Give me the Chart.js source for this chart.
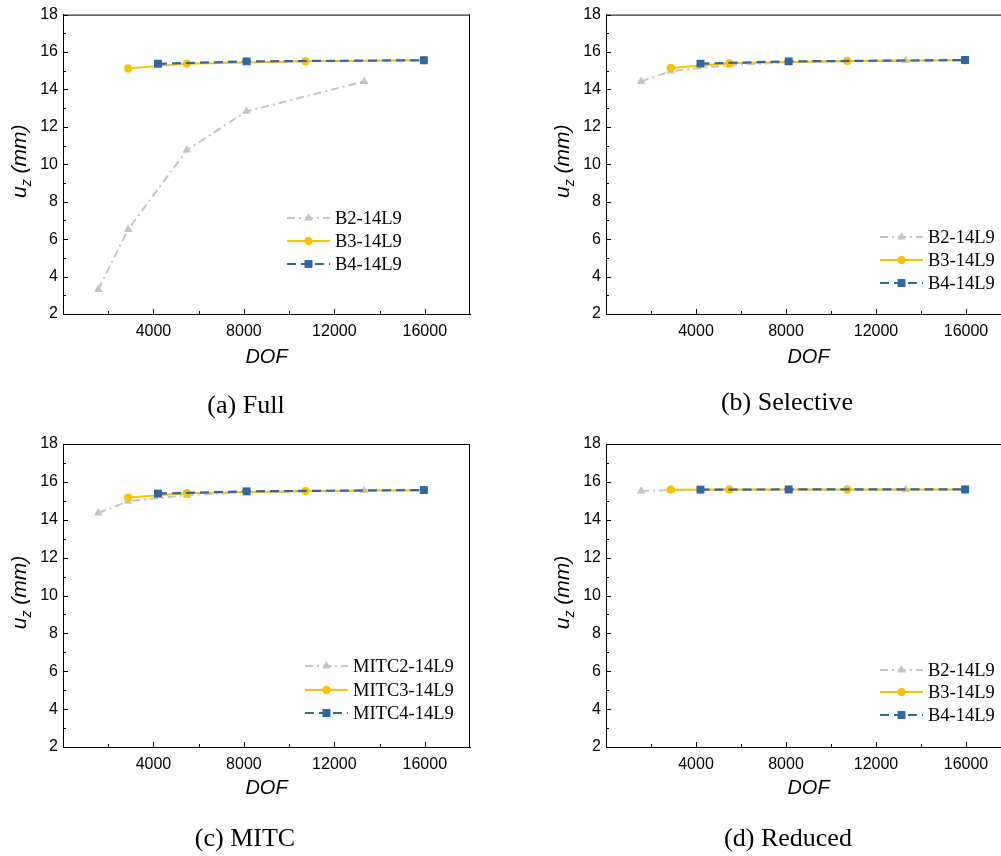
<!DOCTYPE html>
<html>
<head>
<meta charset="utf-8">
<script src="https://cdn.jsdelivr.net/npm/chart.js"></script>
<style>
  html, body { margin: 0; padding: 0; background: #fff; overflow: hidden; }
  #fig { position: relative; width: 1001px; height: 856px; overflow: hidden; background: #fff; }
  canvas { position: absolute; }
  .caption {
    position: absolute; width: 400px; text-align: center;
    font-family: 'Liberation Serif', 'Times New Roman', serif;
    font-size: 26px; line-height: 30px; color: #000;
  }
</style>
</head>
<body>
<div id="fig">
  <canvas id="chartA" width="500" height="425" style="left:0;top:0"></canvas>
  <canvas id="chartB" width="500" height="425" style="left:540px;top:0"></canvas>
  <canvas id="chartC" width="500" height="431" style="left:0;top:425px"></canvas>
  <canvas id="chartD" width="500" height="431" style="left:540px;top:425px"></canvas>
  <div class="caption" style="left:46px;top:390px">(a) Full</div>
  <div class="caption" style="left:587px;top:387px">(b) Selective</div>
  <div class="caption" style="left:45px;top:823px">(c) MITC</div>
  <div class="caption" style="left:588px;top:823px">(d) Reduced</div>
</div>
<script>
// DOF de cada malha (eixo x)
const dofB2 = [1560, 2880, 5480, 8120, 13320];
const dofB3 = [2880, 5480, 10720, 15960];
const dofB4 = [4200, 8120, 15960];

// u_z (mm) - integração completa
const fullB2 = [3.31, 6.52, 10.76, 12.83, 14.43];
const fullB3 = [15.12, 15.38, 15.51, 15.56];
const fullB4 = [15.37, 15.5, 15.56];

// seletiva
const selB2 = [14.42, 14.98, 15.3, 15.45, 15.55];
const selB3 = [15.15, 15.4, 15.52, 15.56];
const selB4 = [15.38, 15.5, 15.57];

// MITC
const mitcB2 = [14.36, 14.98, 15.3, 15.45, 15.55];
const mitcB3 = [15.17, 15.4, 15.52, 15.56];
const mitcB4 = [15.38, 15.5, 15.57];

// reduzida
const redB2 = [15.52, 15.57, 15.58, 15.58, 15.59];
const redB3 = [15.59, 15.6, 15.6, 15.6];
const redB4 = [15.59, 15.6, 15.6];

const namesB = ['B2-14L9', 'B3-14L9', 'B4-14L9'];
const namesMITC = ['MITC2-14L9', 'MITC3-14L9', 'MITC4-14L9'];

const xTickValues = [4000, 8000, 12000, 16000];
const xMinorValues = [2000, 6000, 10000, 14000];
const yTickValues = [2, 4, 6, 8, 10, 12, 14, 16, 18];
const yMinorValues = [3, 5, 7, 9, 11, 13, 15, 17];

const SANS = "'Liberation Sans', Arial, sans-serif";
const SERIF = "'Liberation Serif', 'Times New Roman', serif";

Chart.defaults.font.family = SANS;
Chart.defaults.color = '#000';

const seriesStyle = [
  { color: '#c4c4c4', dash: [8, 4, 2, 4], point: 'triangle', radius: 5, width: 2 },
  { color: '#ffc000', dash: [], point: 'circle', radius: 4.2, width: 2 },
  { color: '#2e67a2', dash: [9, 5], point: 'rect', radius: 5.6, width: 2.2 }
];

function toPoints(xs, ys) {
  return xs.map((x, i) => ({ x: x, y: ys[i] }));
}

function drawMarker(ctx, style, x, y, r) {
  ctx.beginPath();
  if (style === 'circle') {
    ctx.arc(x, y, r, 0, Math.PI * 2);
  } else if (style === 'rect') {
    const s = r * Math.SQRT1_2;
    ctx.rect(x - s, y - s, 2 * s, 2 * s);
  } else {
    let rad = 0;
    ctx.moveTo(x + Math.sin(rad) * r, y - Math.cos(rad) * r);
    rad += Math.PI * 2 / 3;
    ctx.lineTo(x + Math.sin(rad) * r, y - Math.cos(rad) * r);
    rad += Math.PI * 2 / 3;
    ctx.lineTo(x + Math.sin(rad) * r, y - Math.cos(rad) * r);
  }
  ctx.closePath();
  ctx.fill();
}

// moldura, ticks para dentro, titulo do eixo y e legenda
const decorPlugin = {
  id: 'decor',
  afterDraw(chart, args, opts) {
    const ctx = chart.ctx;
    const a = chart.chartArea;
    const xs = chart.scales.x, ys = chart.scales.y;
    ctx.save();
    ctx.strokeStyle = '#000';
    ctx.lineWidth = 1;
    ctx.beginPath();
    ctx.moveTo(a.left, a.top + 0.5);
    ctx.lineTo(a.right, a.top + 0.5);
    if (opts.frameRight) {
      ctx.moveTo(a.right - 0.5, a.top);
      ctx.lineTo(a.right - 0.5, a.bottom);
    }
    xTickValues.forEach(v => {
      const px = Math.round(xs.getPixelForValue(v)) + 0.5;
      ctx.moveTo(px, a.bottom); ctx.lineTo(px, a.bottom - 5);
    });
    xMinorValues.forEach(v => {
      const px = Math.round(xs.getPixelForValue(v)) + 0.5;
      ctx.moveTo(px, a.bottom); ctx.lineTo(px, a.bottom - 3);
    });
    yTickValues.forEach(v => {
      const py = Math.round(ys.getPixelForValue(v)) + 0.5;
      ctx.moveTo(a.left, py); ctx.lineTo(a.left + 5, py);
    });
    yMinorValues.forEach(v => {
      const py = Math.round(ys.getPixelForValue(v)) + 0.5;
      ctx.moveTo(a.left, py); ctx.lineTo(a.left + 3, py);
    });
    ctx.stroke();

    // titulo do eixo y: u_z (mm)
    ctx.translate(a.left - 37, (a.top + a.bottom) / 2 - 3);
    ctx.rotate(-Math.PI / 2);
    const big = 'italic 21px ' + SANS;
    const small = 'italic 14px ' + SANS;
    ctx.font = big; const wu = ctx.measureText('u').width;
    ctx.font = small; const wz = ctx.measureText('z').width;
    ctx.font = big; const wr = ctx.measureText(' (mm)').width;
    let tx = -(wu + wz + wr) / 2;
    ctx.fillStyle = '#000';
    ctx.textAlign = 'left';
    ctx.textBaseline = 'alphabetic';
    ctx.font = big; ctx.fillText('u', tx, 0); tx += wu;
    ctx.font = small; ctx.fillText('z', tx, 5); tx += wz;
    ctx.font = big; ctx.fillText(' (mm)', tx, 0);
    ctx.restore();

    // legenda
    const lg = opts.legend;
    ctx.save();
    chart.data.datasets.forEach((ds, i) => {
      const st = seriesStyle[i];
      const y = lg.rows[i];
      ctx.strokeStyle = st.color;
      ctx.lineWidth = st.width;
      ctx.setLineDash(st.dash);
      ctx.beginPath();
      ctx.moveTo(lg.x1, y);
      ctx.lineTo(lg.x2, y);
      ctx.stroke();
      ctx.setLineDash([]);
      ctx.fillStyle = st.color;
      drawMarker(ctx, st.point, (lg.x1 + lg.x2) / 2, y, st.radius);
      ctx.fillStyle = '#000';
      ctx.font = '18.5px ' + SERIF;
      ctx.textAlign = 'left';
      ctx.textBaseline = 'alphabetic';
      ctx.fillText(ds.label, lg.textX, y + 6);
    });
    ctx.restore();
  }
};

function makePanel(id, area, names, b2, b3, b4, legend) {
  const canvas = document.getElementById(id);
  const W = canvas.width, H = canvas.height;
  const series = [[dofB2, b2], [dofB3, b3], [dofB4, b4]];
  const datasets = series.map((s, i) => {
    const st = seriesStyle[i];
    return {
      label: names[i],
      data: toPoints(s[0], s[1]),
      borderColor: st.color,
      backgroundColor: st.color,
      borderWidth: st.width,
      borderDash: st.dash,
      pointStyle: st.point,
      pointRadius: st.radius,
      pointBackgroundColor: st.color,
      pointBorderColor: st.color,
      pointBorderWidth: 0,
      tension: 0,
      fill: false,
      order: 3 - i
    };
  });

  new Chart(canvas, {
    type: 'line',
    data: { datasets: datasets },
    options: {
      responsive: false,
      animation: false,
      events: [],
      layout: { padding: { top: area.top, right: W - area.right, left: 0, bottom: 0 } },
      plugins: {
        legend: { display: false },
        tooltip: { enabled: false },
        decor: { legend: legend, frameRight: area.frameRight }
      },
      scales: {
        x: {
          type: 'linear',
          min: 0,
          max: 18000,
          afterFit: s => { s.height = H - area.bottom; },
          afterBuildTicks: s => { s.ticks = xTickValues.map(v => ({ value: v })); },
          grid: { display: false, drawTicks: false },
          border: { display: true, color: '#000', width: 1 },
          ticks: {
            padding: 8, autoSkip: false, maxRotation: 0,
            font: { size: 16 }, color: '#000',
            callback: v => String(v)
          },
          title: {
            display: true, text: 'DOF', color: '#000',
            font: { size: 20, style: 'italic' },
            padding: { top: 0, bottom: 56 }
          }
        },
        y: {
          type: 'linear',
          min: 2,
          max: 18,
          afterFit: s => { s.width = area.left; },
          afterBuildTicks: s => { s.ticks = yTickValues.map(v => ({ value: v })); },
          grid: { display: false, drawTicks: false },
          border: { display: true, color: '#000', width: 1 },
          ticks: {
            padding: 5, autoSkip: false,
            font: { size: 16 }, color: '#000',
            callback: v => String(v)
          }
        }
      }
    },
    plugins: [decorPlugin]
  });
}

// paineis da direita: a moldura passa da borda da figura
makePanel('chartA', { left: 63, top: 13, right: 470, bottom: 314, frameRight: true }, namesB,
  fullB2, fullB3, fullB4, { rows: [218, 241, 264], x1: 287, x2: 330, textX: 335 });
makePanel('chartB', { left: 66, top: 13, right: 471, bottom: 314, frameRight: false }, namesB,
  selB2, selB3, selB4, { rows: [237, 260, 283], x1: 340, x2: 383, textX: 388 });
makePanel('chartC', { left: 63, top: 19, right: 470, bottom: 322, frameRight: true }, namesMITC,
  mitcB2, mitcB3, mitcB4, { rows: [241, 265, 288], x1: 305, x2: 348, textX: 353 });
makePanel('chartD', { left: 66, top: 19, right: 471, bottom: 322, frameRight: false }, namesB,
  redB2, redB3, redB4, { rows: [245, 267, 290], x1: 340, x2: 383, textX: 388 });
</script>
</body>
</html>
